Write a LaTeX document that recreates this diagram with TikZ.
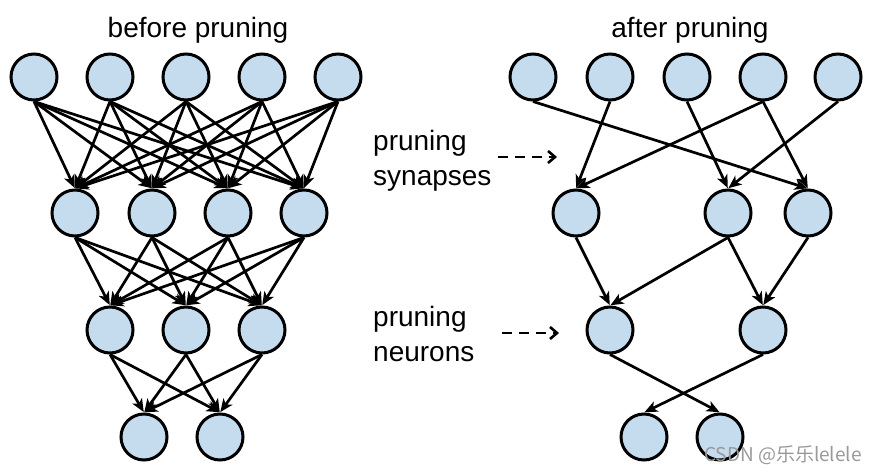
\documentclass[tikz,border=0pt]{standalone}
\usepackage{fontspec}
\setmainfont{Liberation Sans}
\newfontfamily\cjkfont{Noto Sans CJK SC}
\usetikzlibrary{arrows.meta}
\definecolor{neuronfill}{RGB}{197,220,238}
\tikzset{
  neuron/.style={circle, draw=black, line width=3pt, fill=neuronfill, minimum size=46pt, inner sep=0pt},
  syn/.style={line width=2.7pt, -{Stealth[length=13pt,width=11pt,inset=3.5pt]}, shorten >=0.5pt},
  hint/.style={line width=2.6pt, dash pattern=on 10pt off 7pt, -{Straight Barb[length=7pt,width=12pt]}},
  lbl/.style={font=\fontsize{28}{35}\selectfont, inner sep=0pt},
}
\begin{document}
\begin{tikzpicture}[x=1pt,y=-1pt]
\useasboundingbox (0,0) rectangle (875,473);
% titles
\node[lbl] (t1) at (198,30) {before pruning};
\node[lbl] (t2) at (690,30) {after pruning};
% left network
\foreach \x [count=\i] in {34,110,186,262,338} \node[neuron] (a\i) at (\x,77) {};
\foreach \x [count=\i] in {75,152,228,304} \node[neuron] (b\i) at (\x,213) {};
\foreach \x [count=\i] in {110,186,262} \node[neuron] (c\i) at (\x,330) {};
\foreach \x [count=\i] in {144,220} \node[neuron] (d\i) at (\x,437) {};
\foreach \i in {1,...,5} \foreach \j in {1,...,4} \draw[syn] (a\i.south) -- (b\j.north);
\foreach \i in {1,...,4} \foreach \j in {1,...,3} \draw[syn] (b\i.south) -- (c\j.north);
\foreach \i in {1,...,3} \foreach \j in {1,2} \draw[syn] (c\i.south) -- (d\j.north);
% right network
\foreach \x [count=\i] in {533,610,687,763,838} \node[neuron] (p\i) at (\x,77) {};
\foreach \x [count=\i] in {576,728,808} \node[neuron] (q\i) at (\x,213) {};
\foreach \x [count=\i] in {610,763} \node[neuron] (r\i) at (\x,330) {};
\foreach \x [count=\i] in {644,720} \node[neuron] (s\i) at (\x,437) {};
\draw[syn] (p1.south) -- (q3.north);
\draw[syn] (p2.south) -- (q1.north);
\draw[syn] (p3.south) -- (q2.north);
\draw[syn] (p4.south) -- (q1.north);
\draw[syn] (p4.south) -- (q3.north);
\draw[syn] (p5.south) -- (q2.north);
\draw[syn] (q1.south) -- (r1.north);
\draw[syn] (q2.south) -- (r1.north);
\draw[syn] (q2.south) -- (r2.north);
\draw[syn] (q3.south) -- (r2.north);
\draw[syn] (r1.south) -- (s2.north);
\draw[syn] (r2.south) -- (s1.north);
% labels
\node[lbl, align=left, anchor=west] (l1) at (373,161) {pruning\\synapses};
\node[lbl, align=left, anchor=west] (l2) at (373,334) {pruning\\neurons};
\coordinate (h1s) at (498,157);
\coordinate (h1e) at (557,157);
\coordinate (h2s) at (502,333);
\coordinate (h2e) at (559,333);
\draw[hint] (h1s) -- (h1e);
\draw[hint] (h2s) -- (h2e);
% watermark
\node[font=\cjkfont\fontsize{19}{22}\selectfont, text=black!40, anchor=east, inner sep=0pt] (wm) at (862,455) {CSDN @乐乐lelele};
\end{tikzpicture}
\end{document}
